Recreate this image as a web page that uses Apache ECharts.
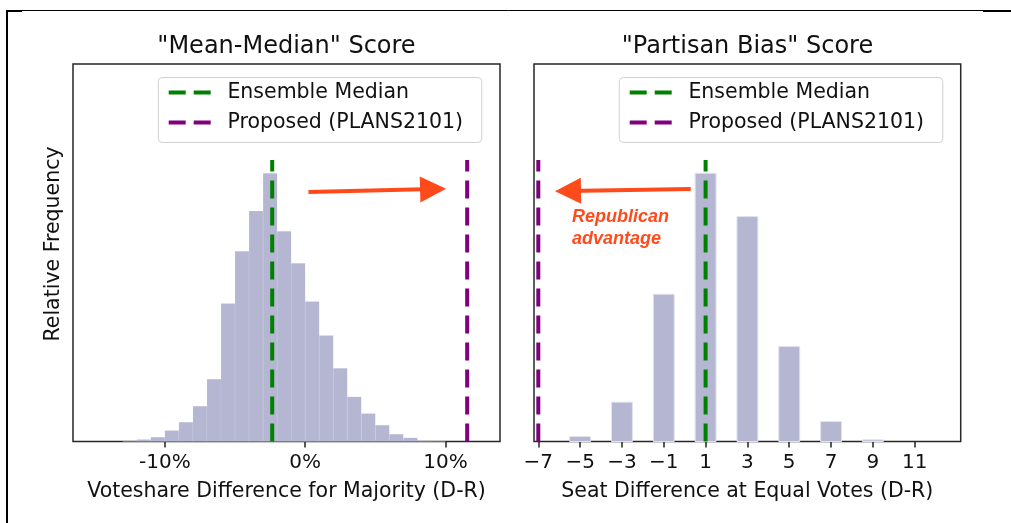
<!DOCTYPE html>
<html>
<head>
<meta charset="utf-8">
<script src="https://cdn.jsdelivr.net/npm/echarts@6/dist/echarts.min.js"></script>
<style>
  html, body { margin: 0; padding: 0; background: #fff; }
  #chart { width: 1011px; height: 523px; }
</style>
</head>
<body>
<div id="chart"></div>
<script>
// left panel: "Mean-Median" histogram, 1%-wide bins (value = bin start)
const mmBinStart = [-13, -12, -11, -10, -9, -8, -7, -6, -5, -4, -3, -2, -1, 0, 1, 2, 3, 4, 5, 6, 7, 8, 9]
const mmFreq = [1, 6, 13, 33, 58, 106, 187, 414, 571, 692, 805, 631, 535, 420, 318, 220, 134, 84, 49, 22, 11, 3, 1]
const mmTicks = [-10, 0, 10]
const mmMedian = -2.35
const mmProposed = 11.55

// right panel: "Partisan Bias" seat differences
const pbSeats = [-5, -3, -1, 1, 3, 5, 7, 9]
const pbFreq = [15, 118, 442, 805, 675, 285, 60, 5]
const pbTicks = [-7, -5, -3, -1, 1, 3, 5, 7, 9, 11]
const pbMedian = 1
const pbProposed = -7

// shared frequency scale, height of the reference lines
const freqMax = 1133
const refLineTop = 845

// annotation arrows [from, to] in data units
const mmArrow = [[0.235, 749], [9.12, 757.5]]
const pbArrow = [[0.29, 758], [-5.58, 752]]

const FONT = 'DejaVu Sans'
const BAR = '#b4b6d2'
const GREEN = '#008000'
const PURPLE = '#800080'
const ARROW = '#ff4a1c'

const chart = echarts.init(document.getElementById('chart'))

const histItem = (params, api) => {
  const p0 = api.coord([api.value(0), api.value(2)])
  const p1 = api.coord([api.value(1), 0])
  return {
    type: 'rect',
    shape: { x: p0[0], y: p0[1], width: p1[0] - p0[0], height: p1[1] - p0[1] },
    style: { fill: BAR, stroke: 'rgba(255,255,255,0.18)', lineWidth: 0.6 },
  }
}

const barItem = (params, api) => {
  const c = api.value(0)
  const p0 = api.coord([c - 0.5, api.value(1)])
  const p1 = api.coord([c + 0.5, 0])
  return {
    type: 'rect',
    shape: { x: p0[0], y: p0[1], width: p1[0] - p0[0], height: p1[1] - p0[1] },
    style: { fill: BAR, stroke: '#e2e3ee', lineWidth: 1 },
  }
}

const refLine = (name, x, color, idx) => ({
  name,
  type: 'line',
  xAxisIndex: idx,
  yAxisIndex: idx,
  data: [[x, 0], [x, refLineTop]],
  symbol: 'none',
  itemStyle: { color },
  lineStyle: { color, width: 4, type: [18, 9] },
  z: 5,
  silent: true,
})

const arrow = (coords, idx) => ({
  type: 'lines',
  coordinateSystem: 'cartesian2d',
  xAxisIndex: idx,
  yAxisIndex: idx,
  symbol: ['none', 'triangle'],
  symbolSize: [0, 26],
  lineStyle: { color: ARROW, width: 4, opacity: 1, curveness: 0 },
  data: [{ coords }],
  z: 6,
  silent: true,
})

const legend = (left) => ({
  left,
  top: 77.5,
  orient: 'vertical',
  selectedMode: false,
  data: ['Ensemble Median', 'Proposed (PLANS2101)'],
  itemWidth: 42,
  itemHeight: 24,
  itemGap: 6,
  padding: [3, 18.7, 8, 8.4],
  backgroundColor: 'rgba(255,255,255,0.8)',
  borderColor: '#d0d0d0',
  borderWidth: 1,
  borderRadius: 4,
  itemStyle: { opacity: 0 },
  lineStyle: { width: 4, type: [17, 8] },
  textStyle: { fontFamily: FONT, fontSize: 20.5, color: '#111', lineHeight: 24, padding: [0, 0, 0, 11.7] },
})

const xAxisBase = (idx, min, max, ticks, fmt, name) => ({
  type: 'value',
  gridIndex: idx,
  min,
  max,
  axisLine: { show: false },
  splitLine: { show: false },
  axisTick: { show: true, customValues: ticks, length: 6, lineStyle: { color: '#222', width: 1.5 } },
  axisLabel: { customValues: ticks, formatter: fmt, fontFamily: FONT, fontSize: 20, color: '#111', margin: 9, lineHeight: 24 },
  name,
  nameLocation: 'middle',
  nameGap: 38,
  nameTextStyle: { fontFamily: FONT, fontSize: 20.5, color: '#111', lineHeight: 24 },
})

const yAxisBase = (idx) => ({
  type: 'value', gridIndex: idx, min: 0, max: freqMax, show: false,
})

chart.setOption({
  animation: false,
  title: [
    { text: '"Mean-Median" Score', left: 286.5, top: 32.5, textAlign: 'center', padding: 0,
      textStyle: { fontFamily: FONT, fontSize: 24, fontWeight: 'normal', color: '#111', lineHeight: 28 } },
    { text: '"Partisan Bias" Score', left: 747.5, top: 32.5, textAlign: 'center', padding: 0,
      textStyle: { fontFamily: FONT, fontSize: 24, fontWeight: 'normal', color: '#111', lineHeight: 28 } },
  ],
  legend: [legend(158.3), legend(619.3)],
  grid: [
    { left: 73, top: 64, width: 427, height: 377.5, show: true, borderColor: '#262626', borderWidth: 1.5 },
    { left: 534, top: 64, width: 426.7, height: 377.5, show: true, borderColor: '#262626', borderWidth: 1.5 },
  ],
  xAxis: [
    xAxisBase(0, -16.55, 13.89, mmTicks, (v) => v + '%', 'Voteshare Difference for Majority (D-R)'),
    xAxisBase(1, -7.206, 13.2, pbTicks, (v) => (v < 0 ? '\u2212' + (-v) : String(v)), 'Seat Difference at Equal Votes (D-R)'),
  ],
  yAxis: [yAxisBase(0), yAxisBase(1)],
  series: [
    {
      type: 'custom',
      xAxisIndex: 0,
      yAxisIndex: 0,
      renderItem: histItem,
      encode: { x: [0, 1], y: 2 },
      data: mmBinStart.map((s, i) => [s, s + 1, mmFreq[i]]),
      silent: true,
    },
    {
      type: 'custom',
      xAxisIndex: 1,
      yAxisIndex: 1,
      renderItem: barItem,
      encode: { x: 0, y: 1 },
      data: pbSeats.map((s, i) => [s, pbFreq[i]]),
      silent: true,
    },
    refLine('Ensemble Median', mmMedian, GREEN, 0),
    refLine('Proposed (PLANS2101)', mmProposed, PURPLE, 0),
    refLine('Ensemble Median', pbMedian, GREEN, 1),
    refLine('Proposed (PLANS2101)', pbProposed, PURPLE, 1),
    arrow(mmArrow, 0),
    arrow(pbArrow, 1),
  ],
  graphic: [
    // outer frame of the figure
    { type: 'line', shape: { x1: 7, y1: 10, x2: 7, y2: 523 }, style: { stroke: '#000', lineWidth: 2 } },
    { type: 'line', shape: { x1: 6, y1: 10.5, x2: 1011, y2: 10.5 }, style: { stroke: '#000', lineWidth: 1 } },
    { type: 'line', shape: { x1: 6, y1: 11, x2: 22, y2: 11 }, style: { stroke: '#000', lineWidth: 2 } },
    { type: 'line', shape: { x1: 983, y1: 11, x2: 1011, y2: 11 }, style: { stroke: '#000', lineWidth: 2 } },
    {
      type: 'text',
      x: 53.3,
      y: 244,
      rotation: Math.PI / 2,
      style: { text: 'Relative Frequency', fontFamily: FONT, fontSize: 20.5, fill: '#111', align: 'center', verticalAlign: 'middle' },
    },
    {
      type: 'text',
      left: 572,
      top: 205.5,
      style: {
        text: 'Republican\nadvantage',
        fontFamily: 'Liberation Sans',
        fontSize: 18,
        fontWeight: 'bold',
        fontStyle: 'italic',
        lineHeight: 22.3,
        fill: ARROW,
      },
      z: 10,
    },
  ],
})
</script>
</body>
</html>
